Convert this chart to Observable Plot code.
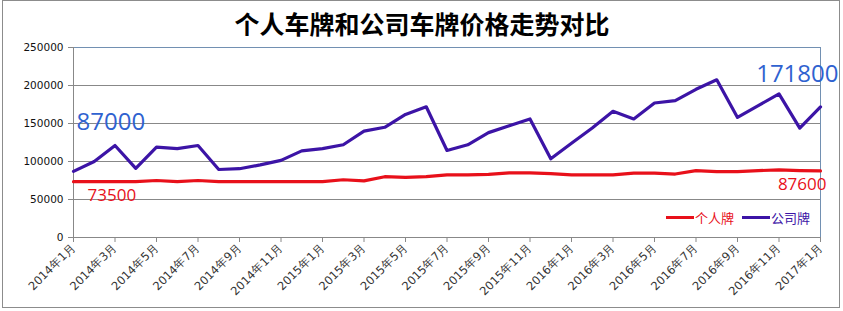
<!DOCTYPE html>
<html>
<head>
<meta charset="utf-8">
<script src="https://cdn.jsdelivr.net/npm/d3@7"></script>
<script src="https://cdn.jsdelivr.net/npm/@observablehq/plot@0.6"></script>
<style>
  html, body { margin: 0; padding: 0; background: #fff; }
  #wrap { position: relative; width: 843px; height: 311px; overflow: hidden; }
  #chart { position: absolute; left: 0; top: 0; width: 843px; height: 311px; }
  #border { position: absolute; left: 2px; top: 0px; width: 838px; height: 308px; border: 1px solid #8c8c8c; box-sizing: border-box; pointer-events: none; }
  #legend { position: absolute; left: 666px; top: 204px; font-family: "Noto Sans CJK SC", sans-serif; font-size: 13px; white-space: nowrap; }
  #legend span.item { display: inline-flex; align-items: center; margin-right: 8px; }
  #legend span.sw { display: inline-block; width: 28px; height: 3px; margin-right: 1px; }
</style>
</head>
<body>
<div id="wrap">
  <div id="chart"></div>
  <div id="legend"></div>
  <div id="border"></div>
</div>
<script>
const title = "个人车牌和公司车牌价格走势对比";

const months = [
  "2014年1月","2014年2月","2014年3月","2014年4月","2014年5月","2014年6月",
  "2014年7月","2014年8月","2014年9月","2014年10月","2014年11月","2014年12月",
  "2015年1月","2015年2月","2015年3月","2015年4月","2015年5月","2015年6月",
  "2015年7月","2015年8月","2015年9月","2015年10月","2015年11月","2015年12月",
  "2016年1月","2016年2月","2016年3月","2016年4月","2016年5月","2016年6月",
  "2016年7月","2016年8月","2016年9月","2016年10月","2016年11月","2016年12月",
  "2017年1月"
];

const xTickLabels = [
  "2014年1月","2014年3月","2014年5月","2014年7月","2014年9月","2014年11月",
  "2015年1月","2015年3月","2015年5月","2015年7月","2015年9月","2015年11月",
  "2016年1月","2016年3月","2016年5月","2016年7月","2016年9月","2016年11月",
  "2017年1月"
];

const yTicks = [0, 50000, 100000, 150000, 200000, 250000];

const seriesNames = ["个人牌", "公司牌"];

const personal = [
  73500, 73500, 73500, 73500, 75000, 73500, 75000, 73500, 73500, 73500, 73500, 73500,
  73500, 76000, 74500, 80000, 79000, 80000, 82500, 82500, 83000, 85000, 85000, 84000,
  82500, 82500, 82500, 84700, 84700, 83500, 88000, 86800, 86800, 88000, 89000, 88000,
  87600
];

const company = [
  87000, 100000, 121000, 91000, 119000, 117000, 121000, 89500, 90500, 95500, 101500, 114000,
  117000, 122000, 140000, 145000, 162000, 172000, 114500, 122000, 138000, 147000, 156000, 103500,
  124000, 144000, 166000, 156000, 177000, 180000, 195000, 207500, 158000, 173500, 189000, 144000,
  171800
];

const colors = ["#e8101a", "#3c14a6"];
const annoBlue = "#2f62d0";

const rows = months.map((m, i) => ({month: m, personal: personal[i], company: company[i]}));

const first = rows[0], last = rows[rows.length - 1];
const annotations = [
  {month: first.month, value: first.company, text: String(first.company), color: annoBlue, anchor: "start", dx: 3, dy: -49, size: 24},
  {month: first.month, value: first.personal, text: String(first.personal), color: colors[0], anchor: "start", dx: 14, dy: 14, size: 17},
  {month: last.month, value: last.company, text: String(last.company), color: annoBlue, anchor: "end", dx: 18, dy: -33, size: 24},
  {month: last.month, value: last.personal, text: String(last.personal), color: colors[0], anchor: "end", dx: 6, dy: 14, size: 17}
];

const frameBlue = "#7290b2";
const gridGray = "#888888";
const M = {marginLeft: 73, marginRight: 23, marginTop: 47, marginBottom: 74};

const chart = Plot.plot({
  width: 843,
  height: 311,
  ...M,
  style: {fontFamily: "'DejaVu Sans', sans-serif", background: "transparent", overflow: "visible"},
  x: {type: "point", domain: months, padding: 0, round: false},
  y: {domain: [0, 250000]},
  marks: [
    Plot.gridY(yTicks.filter(d => d > 0 && d < 250000), {stroke: gridGray, strokeOpacity: 1}),
    Plot.ruleY([250000], {stroke: frameBlue, strokeWidth: 1}),
    Plot.ruleX([months[months.length - 1]], {stroke: frameBlue, strokeWidth: 1}),
    Plot.ruleX([months[0]], {stroke: gridGray}),
    Plot.ruleY([0], {stroke: gridGray}),
    Plot.axisY({ticks: yTicks, tickFormat: d => String(d), tickSize: 5, tickPadding: 5, stroke: gridGray, fill: "#111", fontSize: 10.5, label: null}),
    Plot.axisX({ticks: xTickLabels, tickSize: 5, tickRotate: -45, tickPadding: 3, stroke: gridGray, fill: "#333", fontSize: 11.5, label: null}),
    Plot.line(rows, {x: "month", y: "personal", stroke: colors[0], strokeWidth: 3.2}),
    Plot.line(rows, {x: "month", y: "company", stroke: colors[1], strokeWidth: 3.2}),
    ...annotations.map(a => Plot.text([a], {x: "month", y: "value", text: "text", fill: a.color, textAnchor: a.anchor, dx: a.dx, dy: a.dy, fontSize: a.size, fontFamily: "'Open Sans', sans-serif"})),
    Plot.text([title], {frameAnchor: "top", text: d => d, dx: -25, dy: -22, lineAnchor: "middle", fontSize: 25, fontWeight: "bold", fill: "#000", fontFamily: "'Noto Sans CJK SC', sans-serif"})
  ]
});
document.getElementById("chart").appendChild(chart);

const legend = document.getElementById("legend");
seriesNames.forEach((name, i) => {
  const item = document.createElement("span");
  item.className = "item";
  const sw = document.createElement("span");
  sw.className = "sw";
  sw.style.background = colors[i];
  const label = document.createElement("span");
  label.textContent = name;
  label.style.color = colors[i];
  item.appendChild(sw);
  item.appendChild(label);
  legend.appendChild(item);
});
</script>
</body>
</html>
